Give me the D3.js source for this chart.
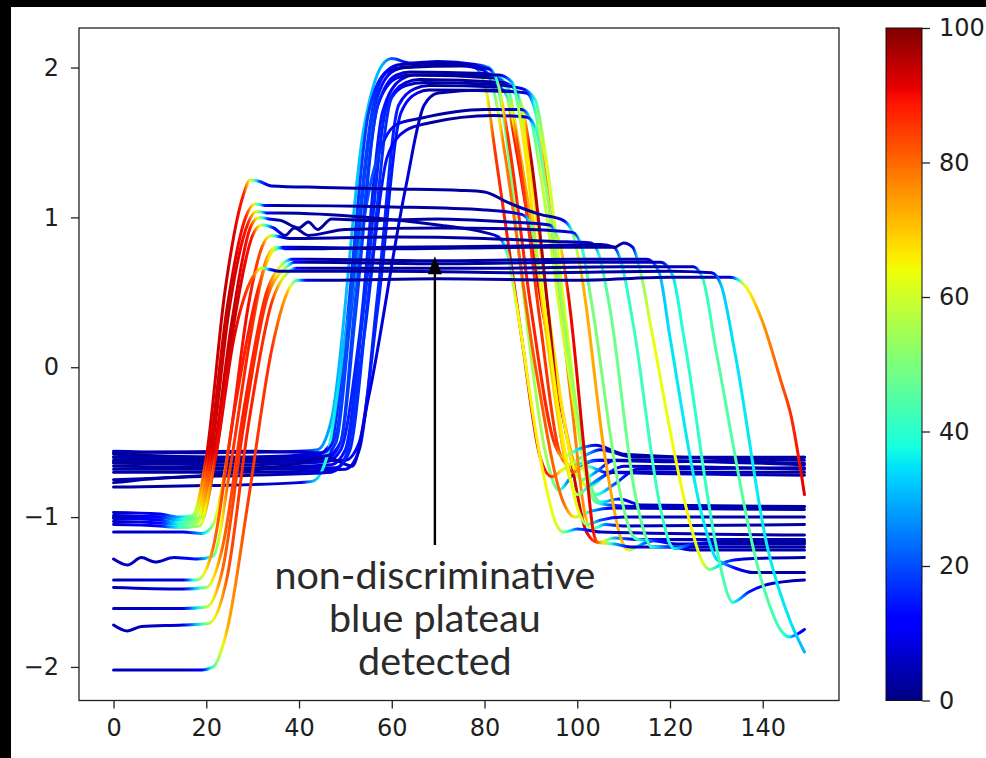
<!DOCTYPE html>
<html>
<head>
<meta charset="utf-8">
<script src="https://cdn.jsdelivr.net/npm/d3@7/dist/d3.min.js"></script>
<style>
  html, body { margin: 0; padding: 0; background: #000; }
  svg { display: block; }
</style>
</head>
<body>
<svg width="986" height="758"></svg>
<script>
// tick labels
var xTicks = [0, 20, 40, 60, 80, 100, 120, 140];
var yTicks = [-2, -1, 0, 1, 2];
var colorTicks = [0, 20, 40, 60, 80, 100];

// annotation
var annotationLines = ["non-discriminative", "blue plateau", "detected"];
var arrowTail = [69.3, -1.2];
var arrowHead = [69.3, 0.74];

// each curve: knots [time step, value, importance 0-100]
// series that rise late (around t=45-55) to the high plateau
var lateRiseCurves = [
  [[0,-0.56,6],[20,-0.57,6],[40,-0.56,10],[44,-0.55,25],[47,-0.35,30],[54,1.6,32],[58,2.02,30],[60,2.06,22],[64,2.03,10],[70,2.04,6],[78,2.02,10],[81,2.0,30],[84,1.7,45],[88,0.6,55],[93,-0.55,55],[96,-0.82,45],[99,-0.72,15],[104,-0.62,6],[120,-0.63,3],[149,-0.6,3]],
  [[0,-0.58,3],[25,-0.6,3],[44,-0.58,8],[47,-0.5,15],[50,0.2,18],[55,1.7,18],[59,1.98,12],[62,2.02,4],[72,2.03,3],[78,2.0,8],[80,1.9,55],[82,1.5,85],[88,0.2,92],[92,-0.6,92],[94.5,-0.73,85],[97,-0.68,60],[101,-0.64,35],[105,-0.62,10],[149,-0.64,3]],
  [[0,-0.6,3],[30,-0.61,3],[45,-0.6,8],[48,-0.5,18],[51,0.3,20],[56,1.7,18],[60,1.97,10],[63,2.0,4],[75,2.01,3],[80,1.98,10],[82,1.85,45],[84,1.5,78],[91,0.0,82],[97,-0.9,80],[99.5,-1.0,65],[103,-0.96,30],[108,-0.94,6],[149,-0.95,3]],
  [[0,-0.62,3],[30,-0.62,3],[46,-0.61,8],[49,-0.5,18],[52,0.4,20],[57,1.75,18],[61,1.95,8],[64,1.97,3],[80,1.96,3],[84,1.92,40],[86,1.6,88],[93,0.3,92],[98,-0.5,94],[102,-1.1,92],[104.5,-1.17,80],[108,-1.14,30],[113,-1.15,6],[149,-1.15,3]],
  [[0,-0.64,3],[30,-0.65,3],[46,-0.63,8],[49,-0.55,15],[53,0.2,16],[58,1.7,15],[62,1.92,8],[65,1.95,3],[82,1.93,3],[85,1.88,35],[87,1.55,72],[94,0.2,76],[100,-0.7,72],[102.5,-0.8,55],[106,-0.72,25],[110,-0.66,6],[149,-0.68,3]],
  [[0,-0.66,3],[30,-0.67,3],[47,-0.65,8],[50,-0.55,15],[54,0.4,17],[59,1.75,15],[63,1.9,8],[66,1.92,3],[84,1.9,3],[87,1.84,40],[89,1.5,66],[95,0.1,68],[99,-0.65,65],[101,-0.75,50],[104,-0.7,25],[108,-0.62,6],[149,-0.65,3]],
  [[0,-0.68,3],[30,-0.68,3],[48,-0.67,8],[51,-0.55,16],[55,0.5,18],[60,1.8,16],[63,1.88,8],[67,1.9,3],[80,1.89,3],[88,1.86,8],[91,1.78,40],[93,1.45,60],[98,0.2,62],[102,-0.75,58],[104,-0.9,45],[107,-0.92,20],[112,-0.93,6],[149,-0.93,3]],
  [[0,-0.7,3],[30,-0.7,3],[50,-0.68,8],[53,-0.55,15],[57,0.5,17],[61.5,1.75,15],[65,1.86,8],[68,1.88,3],[83,1.87,3],[85,1.8,45],[87,1.5,84],[92,0.3,86],[96,-0.55,85],[98,-0.65,70],[101,-0.6,40],[105,-0.55,10],[112,-0.6,3],[149,-0.6,3]],
  [[0,-0.63,3],[30,-0.63,3],[50,-0.62,8],[53,-0.5,14],[57,0.4,16],[62,1.7,14],[65.5,1.83,8],[68,1.85,3],[86,1.84,3],[88,1.75,55],[90,1.4,95],[94,0.3,96],[97,-0.55,95],[99,-0.7,85],[102,-0.66,50],[106,-0.7,10],[149,-0.72,3]],
  [[0,-0.75,3],[20,-0.72,3],[40,-0.64,3],[46,-0.6,4],[51.5,-0.66,6],[55,-0.2,8],[63,1.2,8],[67,1.75,6],[70,1.83,3],[80,1.85,3],[89,1.83,8],[91,1.7,45],[93,1.3,76],[99,-0.3,78],[101.5,-0.95,75],[103,-1.08,60],[106,-1.05,25],[110,-1.06,6],[149,-1.05,3]],
  [[0,-0.8,3],[20,-0.79,3],[40,-0.77,8],[43,-0.76,30],[46,-0.6,40],[50,0.2,30],[56,1.3,20],[61,1.62,10],[66,1.66,3],[80,1.72,3],[88,1.72,8],[90,1.65,40],[92,1.3,58],[98,0.0,60],[102,-0.7,58],[104,-0.85,45],[108,-0.78,20],[113,-0.68,6],[149,-0.67,3]],
  [[0,-0.77,3],[10,-0.74,3],[30,-0.72,3],[47,-0.7,8],[50,-0.6,16],[54,0.2,17],[59,1.4,14],[63,1.58,8],[68,1.63,3],[82,1.68,3],[89,1.67,8],[91,1.6,38],[93,1.25,52],[99,-0.1,54],[103,-0.8,50],[105,-0.9,40],[109,-0.88,15],[114,-0.92,5],[149,-0.93,3]],
  [[0,-0.57,3],[30,-0.56,3],[45,-0.57,8],[48,-0.45,18],[51,0.4,20],[56,1.75,18],[59,1.97,10],[62,2.0,3],[74,2.02,3],[81,1.99,8],[83,1.88,50],[85,1.55,86],[90,0.4,88],[95,-0.5,86],[97,-0.6,70],[100,-0.55,35],[104,-0.52,10],[110,-0.58,3],[149,-0.62,3]],
  [[0,-0.6,3],[30,-0.6,3],[46,-0.59,8],[49,-0.5,17],[52,0.3,19],[57,1.75,17],[61,1.93,8],[64,1.95,3],[83,1.95,3],[86,1.9,30],[88,1.6,66],[93,0.3,70],[98,-0.7,68],[100,-0.85,55],[103,-0.78,30],[108,-0.7,6],[149,-0.7,3]]
];

// series that rise early (around t=17-23) to the long blue plateau
var earlyRiseCurves = [
  [[0,-0.97,6],[10,-0.98,10],[14,-1.0,30],[17,-0.99,50],[20,-0.6,92],[24,0.5,95],[28,1.15,88],[29.5,1.25,62],[31.5,1.24,20],[34,1.21,6],[45,1.2,3],[60,1.19,3],[75,1.18,3],[80,1.17,3],[85,1.1,3],[92,1.02,3],[97,0.98,8],[99,0.9,45],[101,0.6,72],[106,-0.6,74],[109.5,-1.15,72],[111,-1.22,65],[114,-1.18,25],[118,-1.15,6],[149,-1.16,3]],
  [[0,-0.99,6],[10,-1.0,12],[14,-1.02,35],[17.5,-1.0,50],[20.5,-0.6,92],[24.5,0.4,94],[28.5,1.0,88],[30.5,1.09,60],[32.5,1.08,15],[35,1.08,3],[60,1.07,3],[80,1.05,3],[88,1.02,8],[90,0.95,45],[92,0.6,64],[97,-0.5,66],[100.5,-0.98,62],[102,-1.05,50],[105,-1.02,20],[110,-1.0,6],[149,-1.0,3]],
  [[0,-1.01,6],[10,-1.02,12],[14,-1.04,40],[18,-1.02,55],[21,-0.6,92],[25,0.4,94],[29,0.96,88],[31,1.04,58],[33,1.03,12],[36,1.03,3],[55,1.0,3],[70,0.95,3],[80,0.9,3],[83,0.87,10],[85,0.75,50],[87,0.4,64],[92,-0.6,66],[95.5,-1.05,62],[97,-1.1,50],[100,-1.08,20],[105,-1.1,6],[149,-1.12,3]],
  [[0,-1.03,6],[10,-1.04,12],[14,-1.05,40],[18,-1.04,55],[21.5,-0.6,92],[25.5,0.3,95],[29.5,0.93,88],[31.5,1.0,55],[33.5,0.99,12],[36,0.98,3],[40,0.93,3],[42,0.97,3],[44,0.92,3],[47,0.99,3],[55,0.98,3],[70,0.99,3],[85,0.97,3],[94,0.95,8],[96,0.85,60],[98,0.5,90],[102,-0.7,92],[103.5,-1.1,90],[104.5,-1.17,80],[108,-1.18,30],[112,-1.2,6],[149,-1.2,3]],
  [[0,-1.05,6],[10,-1.06,12],[14,-1.07,40],[18.5,-1.06,55],[22,-0.6,90],[26,0.3,94],[30,0.88,88],[32,0.95,55],[34.5,0.93,12],[37,0.88,3],[39,0.93,3],[42,0.88,3],[50,0.92,3],[70,0.93,3],[90,0.92,3],[99,0.9,8],[101,0.8,40],[103,0.45,50],[109,-0.8,50],[111.5,-1.1,48],[113,-1.15,40],[117,-1.16,15],[122,-1.18,5],[149,-1.18,3]],
  [[0,-1.1,5],[15,-1.1,8],[19,-1.11,30],[21.5,-1.05,55],[25,-0.5,88],[29,0.4,90],[32,0.8,82],[34,0.88,55],[36,0.87,12],[38,0.86,3],[60,0.87,3],[80,0.86,3],[95,0.84,3],[103,0.83,8],[104.7,0.75,40],[107,0.4,48],[112.5,-0.85,48],[115,-1.15,45],[116,-1.2,40],[120,-1.2,15],[125,-1.22,5],[149,-1.22,3]],
  [[0,-1.28,5],[3,-1.32,5],[6,-1.27,5],[9,-1.3,5],[13,-1.27,8],[18,-1.28,15],[21.5,-1.26,45],[25,-0.7,85],[29.5,0.2,88],[33,0.72,78],[35,0.8,55],[37,0.79,12],[40,0.79,3],[60,0.8,3],[90,0.81,3],[105,0.82,3],[108,0.8,10],[109.5,0.7,38],[112,0.3,42],[118,-0.95,42],[120,-1.18,40],[121,-1.21,35],[125,-1.18,12],[130,-1.17,3],[149,-1.17,3]],
  [[0,-1.42,5],[15,-1.42,8],[18,-1.42,50],[21.5,-1.2,80],[26,-0.3,88],[31,0.5,88],[34.5,0.78,60],[36.5,0.8,12],[40,0.8,3],[60,0.79,3],[90,0.8,3],[108,0.8,3],[110,0.83,3],[112,0.8,10],[113.5,0.66,50],[116,0.25,63],[124,-1.0,65],[127,-1.3,62],[128.5,-1.35,50],[132,-1.3,20],[136,-1.28,6],[149,-1.27,3]],
  [[0,-1.47,5],[15,-1.48,8],[20,-1.47,55],[23.5,-1.2,80],[28,-0.3,88],[33,0.5,86],[36.5,0.69,55],[38.5,0.72,12],[42,0.72,3],[70,0.71,3],[100,0.72,3],[115,0.72,5],[117.6,0.64,30],[120,0.2,35],[127,-1.0,36],[130,-1.28,34],[131,-1.3,30],[134,-1.34,12],[138,-1.37,3],[149,-1.37,3]],
  [[0,-1.61,5],[15,-1.61,8],[20,-1.6,55],[23.5,-1.35,80],[28,-0.4,88],[33,0.45,86],[37,0.66,55],[39,0.7,12],[42,0.7,3],[70,0.69,3],[100,0.7,3],[118,0.7,5],[120.5,0.62,35],[123,0.2,40],[130,-1.2,42],[132.5,-1.52,45],[133.5,-1.57,40],[137,-1.5,15],[141,-1.45,5],[149,-1.42,3]],
  [[0,-1.72,5],[3,-1.76,5],[6,-1.73,5],[15,-1.72,8],[20.5,-1.71,55],[24.5,-1.4,82],[29,-0.4,88],[34,0.42,86],[37.5,0.63,55],[39.5,0.66,12],[43,0.66,3],[80,0.66,3],[110,0.67,3],[125,0.67,5],[127,0.6,40],[130,0.1,45],[140,-1.45,45],[144,-1.76,42],[145.8,-1.8,35],[147.5,-1.78,15],[149,-1.75,8]],
  [[0,-2.02,5],[15,-2.02,5],[19,-2.02,10],[21.5,-2.0,45],[24.5,-1.75,72],[29,-0.9,85],[34,0.1,86],[37.5,0.5,72],[39.5,0.58,40],[41.5,0.58,10],[45,0.58,3],[70,0.59,3],[100,0.58,3],[120,0.6,3],[128,0.6,3],[133,0.6,8],[136,0.55,62],[140,0.3,75],[144,-0.1,82],[146,-0.31,86],[149,-0.85,92]],
  [[0,-1.0,6],[10,-1.0,12],[15,-1.02,40],[19,-1.0,55],[22,-0.6,90],[26,0.2,92],[30,0.6,82],[32,0.66,60],[34,0.65,12],[36,0.64,3],[60,0.64,3],[90,0.63,3],[120,0.64,3],[129,0.63,5],[131,0.55,32],[134,0.1,35],[141,-1.2,36],[146,-1.7,35],[149,-1.9,30]]
];

var chart = (function() {
    'use strict';

    var svg = d3.select("svg");
    var width = +svg.attr("width");
    var height = +svg.attr("height");

    var plot = { left: 79, top: 28, right: 839, bottom: 700.5 };
    var bar = { left: 886, right: 922 };
    var tickFont = "'DejaVu Sans', sans-serif";

    var x = d3.scaleLinear().domain([-7.45, 156.45]).range([plot.left, plot.right]);
    var y = d3.scaleLinear().domain([-2.224, 2.264]).range([plot.bottom, plot.top]);
    var c = d3.scaleLinear().domain([0, 100]).range([plot.bottom, plot.top]);

    // matplotlib "jet" colour map, channel by channel
    var jetR = d3.scaleLinear().domain([0, 0.35, 0.66, 0.89, 1]).range([0, 0, 1, 1, 0.5]).clamp(true);
    var jetG = d3.scaleLinear().domain([0, 0.125, 0.375, 0.64, 0.91, 1]).range([0, 0, 1, 1, 0, 0]).clamp(true);
    var jetB = d3.scaleLinear().domain([0, 0.11, 0.34, 0.65, 1]).range([0.5, 1, 1, 0, 0]).clamp(true);
    var jet = function(v) {
        var t = v / 100;
        return d3.rgb(255 * jetR(t), 255 * jetG(t), 255 * jetB(t)).formatHex();
    };

    var defs = svg.append("defs");

    var renderBackground = function() {
        svg.append("rect").attr("width", width).attr("height", height).attr("fill", "#000");
        svg.append("rect").attr("x", 11).attr("y", 7)
            .attr("width", width - 11).attr("height", height - 7).attr("fill", "#fff");
        defs.append("clipPath").attr("id", "plot-clip")
            .append("rect")
            .attr("x", plot.left).attr("y", plot.top)
            .attr("width", plot.right - plot.left).attr("height", plot.bottom - plot.top);
    };

    var renderCurves = function(curves, name) {
        var line = d3.line()
            .x(function(d) { return x(d[0]); })
            .y(function(d) { return y(d[1]); })
            .curve(d3.curveMonotoneX);

        var g = svg.append("g").attr("clip-path", "url(#plot-clip)");

        curves.forEach(function(knots, i) {
            var id = "grad-" + name + "-" + i;
            var x0 = x(knots[0][0]);
            var x1 = x(knots[knots.length - 1][0]);
            var grad = defs.append("linearGradient")
                .attr("id", id)
                .attr("gradientUnits", "userSpaceOnUse")
                .attr("x1", x0).attr("x2", x1)
                .attr("y1", 0).attr("y2", 0);
            // colour stops follow the colour map between knots
            for (var k = 0; k < knots.length - 1; k++) {
                var a = knots[k], b = knots[k + 1];
                for (var s = 0; s < 4; s++) {
                    var f = s / 4;
                    grad.append("stop")
                        .attr("offset", (x(a[0] + (b[0] - a[0]) * f) - x0) / (x1 - x0))
                        .attr("stop-color", jet(a[2] + (b[2] - a[2]) * f));
                }
            }
            var last = knots[knots.length - 1];
            grad.append("stop").attr("offset", 1).attr("stop-color", jet(last[2]));

            g.append("path")
                .datum(knots)
                .attr("d", line)
                .attr("fill", "none")
                .attr("stroke", "url(#" + id + ")")
                .attr("stroke-width", 3)
                .attr("stroke-linejoin", "round")
                .attr("stroke-linecap", "round");
        });
    };

    var styleAxis = function(g) {
        g.select(".domain").remove();
        g.selectAll(".tick line").attr("stroke", "#222").attr("stroke-width", 1.3);
        g.selectAll(".tick text")
            .attr("fill", "#1e1e1e")
            .style("font-family", tickFont)
            .style("font-size", "24px");
    };

    var renderAxes = function() {
        svg.append("g")
            .attr("transform", "translate(0," + plot.bottom + ")")
            .call(d3.axisBottom(x).tickValues(xTicks).tickSize(8).tickPadding(10)
                .tickFormat(d3.format("d")))
            .call(styleAxis);

        svg.append("g")
            .attr("transform", "translate(" + plot.left + ",0)")
            .call(d3.axisLeft(y).tickValues(yTicks).tickSize(8).tickPadding(12)
                .tickFormat(d3.format("d")))
            .call(styleAxis);

        svg.append("rect")
            .attr("x", plot.left).attr("y", plot.top)
            .attr("width", plot.right - plot.left).attr("height", plot.bottom - plot.top)
            .attr("fill", "none").attr("stroke", "#222").attr("stroke-width", 1.3);
    };

    var renderColorbar = function() {
        var stops = [0, 0.11, 0.125, 0.34, 0.35, 0.375, 0.64, 0.65, 0.66, 0.89, 0.91, 1];
        var grad = defs.append("linearGradient")
            .attr("id", "jet-bar")
            .attr("x1", 0).attr("x2", 0).attr("y1", 1).attr("y2", 0);
        grad.selectAll("stop")
            .data(stops)
            .enter().append("stop")
                .attr("offset", function(d) { return d; })
                .attr("stop-color", function(d) { return jet(d * 100); });

        svg.append("rect")
            .attr("x", bar.left).attr("y", plot.top)
            .attr("width", bar.right - bar.left).attr("height", plot.bottom - plot.top)
            .attr("fill", "url(#jet-bar)")
            .attr("stroke", "#111").attr("stroke-width", 1);

        svg.append("g")
            .attr("transform", "translate(" + bar.right + ",0)")
            .call(d3.axisRight(c).tickValues(colorTicks).tickSize(8).tickPadding(9)
                .tickFormat(d3.format("d")))
            .call(styleAxis);
    };

    var renderAnnotation = function() {
        var ax = x(arrowTail[0]);
        var tailY = y(arrowTail[1]);
        var tipY = y(arrowHead[1]);
        var headLen = 18;

        svg.append("line")
            .attr("x1", ax).attr("x2", ax)
            .attr("y1", tailY - 2).attr("y2", tipY + headLen - 2)
            .attr("stroke", "#000").attr("stroke-width", 2.4);
        svg.append("path")
            .attr("d", "M" + ax + "," + tipY + "L" + (ax - 7) + "," + (tipY + headLen) +
                "L" + (ax + 7) + "," + (tipY + headLen) + "Z")
            .attr("fill", "#000");

        svg.append("g")
            .selectAll("text")
            .data(annotationLines)
            .enter().append("text")
                .attr("x", ax)
                .attr("y", function(d, i) { return tailY + 42 + i * 43; })
                .attr("text-anchor", "middle")
                .attr("fill", "#2b2b2b")
                .style("font-family", "Lato, sans-serif")
                .style("font-size", "39.5px")
                .text(function(d) { return d; });
    };

    var render = function() {
        renderBackground();
        renderCurves(lateRiseCurves, "late");
        renderCurves(earlyRiseCurves, "early");
        renderAxes();
        renderColorbar();
        renderAnnotation();
    };

    return { render: render };
}());

chart.render();
</script>
</body>
</html>
